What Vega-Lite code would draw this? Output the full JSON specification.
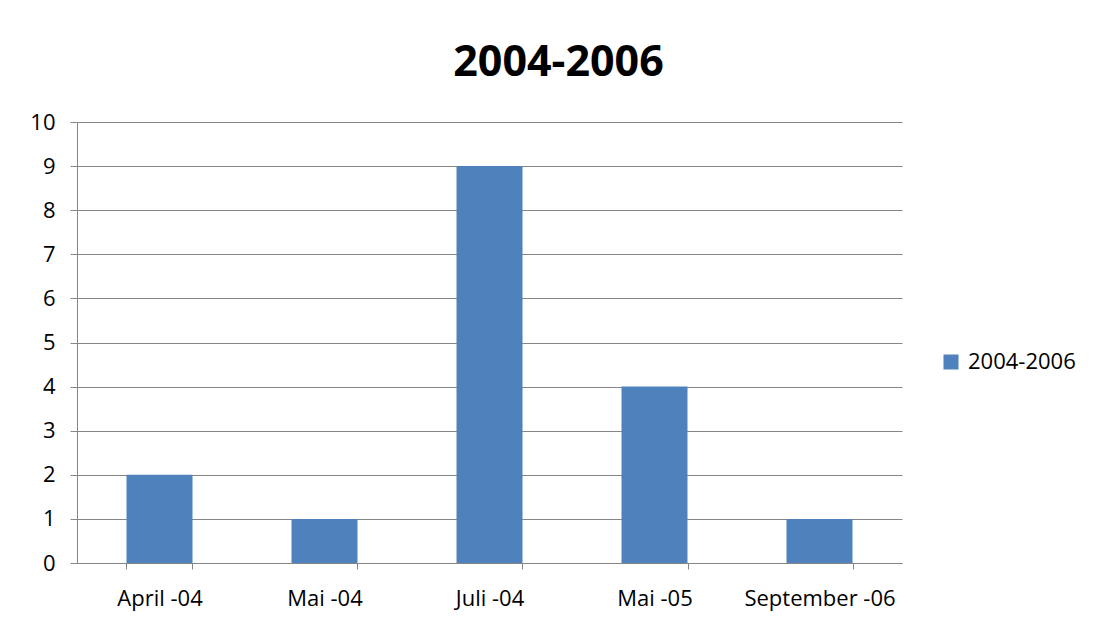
{
  "$schema": "https://vega.github.io/schema/vega-lite/v6.json",
  "width": 825,
  "height": 441,
  "autosize": "none",
  "padding": {"left": 77, "top": 122, "right": 191, "bottom": 60},
  "background": "white",
  "title": {"text": "2004-2006", "fontSize": 43, "font": "Open Sans", "fontWeight": "bold", "color": "black", "anchor": "middle", "dx": 69, "offset": 26},
  "data": {"values": [
    {"month": "April -04", "value": 2, "series": "2004-2006"},
    {"month": "Mai -04", "value": 1, "series": "2004-2006"},
    {"month": "Juli -04", "value": 9, "series": "2004-2006"},
    {"month": "Mai -05", "value": 4, "series": "2004-2006"},
    {"month": "September -06", "value": 1, "series": "2004-2006"}
  ]},
  "mark": {"type": "bar"},
  "encoding": {
    "x": {"field": "month", "type": "nominal", "sort": null, "title": null,
      "scale": {"paddingInner": 0.6, "paddingOuter": 0.3},
      "axis": {"labelAngle": 0, "labelFont": "Open Sans", "labelFontSize": 22, "labelColor": "black", "domainColor": "#868686", "tickColor": "#868686", "tickSize": 6, "tickBand": "extent", "labelPadding": 19, "grid": false}},
    "y": {"field": "value", "type": "quantitative", "title": null,
      "scale": {"domain": [0, 10]},
      "axis": {"values": [0,1,2,3,4,5,6,7,8,9,10], "labelFont": "Open Sans", "labelFontSize": 22, "labelColor": "black", "domainColor": "#868686", "tickColor": "#868686", "tickSize": 7, "gridColor": "#868686", "labelPadding": 15}},
    "color": {"field": "series", "type": "nominal", "title": null,
      "scale": {"range": ["#4F81BD"]},
      "legend": {"orient": "none", "legendX": 863, "legendY": 229, "symbolType": "square", "symbolSize": 225, "labelOffset": 6, "labelFont": "Open Sans", "labelFontSize": 22, "labelColor": "black", "symbolStrokeWidth": 0}}
  },
  "config": {"view": {"stroke": null}}
}
